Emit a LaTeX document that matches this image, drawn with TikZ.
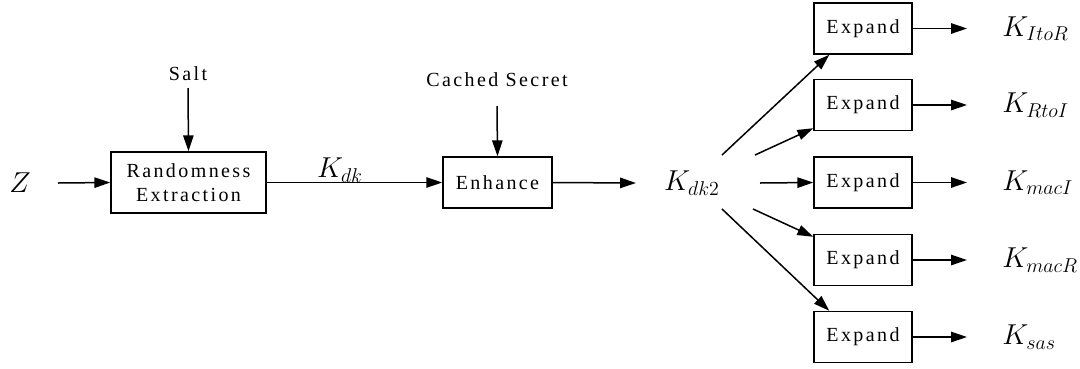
\documentclass[tikz,border=0pt]{standalone}
\usepackage{fontspec}
\newfontfamily\lblfont[LetterSpace=12]{Liberation Serif}
\usetikzlibrary{arrows.meta}
\begin{document}
\begin{tikzpicture}[x=0.6pt,y=-0.6pt,
  line width=0.9pt,
  flow/.style={-{Triangle[length=9.5pt,width=6.2pt]}},
  blk/.style={draw,line width=0.9pt,inner sep=0pt,
    font=\lblfont\fontsize{12}{14}\selectfont,align=center},
  lbl/.style={font=\lblfont\fontsize{12}{14}\selectfont},
  sym/.style={font=\fontsize{17}{19}\selectfont}]
\useasboundingbox (0,0) rectangle (1080,368);

% main chain
\node[sym] (z) at (20,183) {$Z$};
\coordinate (zout) at (58,183);
\node[blk,minimum width=93pt,minimum height=36.6pt] (re) at (188.5,182.5) {Randomness\\ Extraction};
\node[lbl] (salt) at (188,74) {Salt};
\coordinate (saltout) at (188,88);
\node[blk,minimum width=65.4pt,minimum height=30.6pt] (enh) at (497.5,182.5) {Enhance};
\node[lbl] (cs) at (497,80) {Cached Secret};
\coordinate (csout) at (497,106);
\node[sym] (kdk) at (340,170) {$K_{dk}$};
\coordinate (enhout) at (636,183);
\node[sym] (kdk2) at (692,183) {$K_{dk2}$};

\draw[flow] (zout) -- (re.west);
\draw[flow] (saltout) -- (re.north);
\draw[flow] (re.east) -- (enh.west);
\draw[flow] (csout) -- (enh.north);
\draw[flow] (enh.east) -- (enhout);

% expand stage
\foreach \i/\y/\k in {1/28.5/ItoR,2/105/RtoI,3/182.5/macI,4/260/macR,5/337/sas}{
  \node[blk,minimum width=58.8pt,minimum height=30.6pt] (ex\i) at (863,\y) {Expand};
  \coordinate (exo\i) at (967,\y);
  \node[sym,anchor=west] (k\i) at (996,\y) {$K_{\k}$};
  \draw[flow] (ex\i.east) -- (exo\i);
}

% fan-out from K_dk2
\coordinate (f1) at (722,155);
\coordinate (f2) at (755,155);
\coordinate (f3) at (760,183);
\coordinate (f4) at (753,209);
\coordinate (f5) at (722,209);
\draw[flow] (f1) -- ([xshift=16*0.6pt]ex1.south west);
\draw[flow] (f2) -- ([yshift=3*0.6pt]ex2.south west);
\draw[flow] (f3) -- (ex3.west);
\draw[flow] (f4) -- ([yshift=-3*0.6pt]ex4.north west);
\draw[flow] (f5) -- ([xshift=16*0.6pt]ex5.north west);
\end{tikzpicture}
\end{document}
